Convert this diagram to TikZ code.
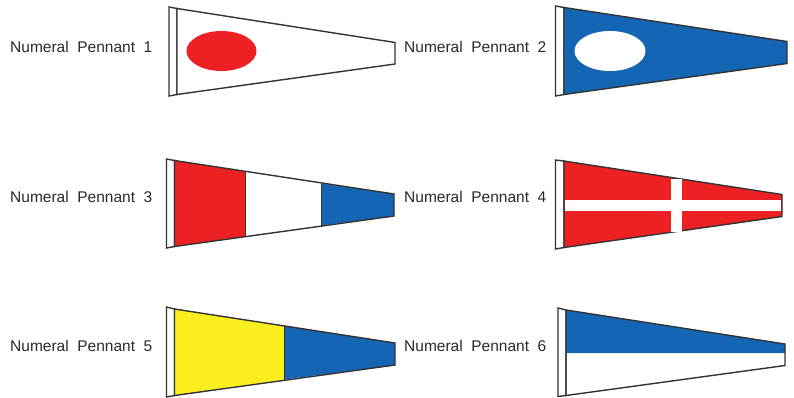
\documentclass[tikz,border=0pt]{standalone}
\usepackage{fontspec}
\setmainfont[WordSpace=2.0]{Liberation Sans}
\definecolor{flagred}{HTML}{ED2024}
\definecolor{flagblue}{HTML}{1565B5}
\definecolor{flagyellow}{HTML}{FBEE1F}
\definecolor{ink}{HTML}{333333}
\definecolor{labelink}{HTML}{2A2A2A}
\tikzset{
  pennantlabel/.style={anchor=base west,inner sep=0pt,text=labelink,font=\fontsize{15.5}{18}\selectfont},
  outline/.style={draw=ink,line width=1.4pt,line join=miter},
  divider/.style={draw=ink,line width=0.9pt},
}
\begin{document}
\begin{tikzpicture}[x=1pt,y=-1pt]
\useasboundingbox[fill=white] (0,0) rectangle (794,397);

% Pennant 1
\node[pennantlabel] (l1) at (10,52) {Numeral Pennant 1};
\draw[outline,fill=white] (169,7) -- (177,8.5) -- (177,94.5) -- (169,96) -- cycle;
\draw[outline,fill=white] (177,8.5) -- (395,42.5) -- (395,64) -- (177,94.5) -- cycle;
\fill[flagred] (221.5,51) ellipse [x radius=35pt,y radius=20pt];

% Pennant 2
\node[pennantlabel] (l2) at (404,52) {Numeral Pennant 2};
\draw[outline,fill=white] (555.5,6) -- (564,7.5) -- (564,94.5) -- (555.5,96) -- cycle;
\draw[outline,fill=flagblue] (564,7.5) -- (787,41.5) -- (787,63.5) -- (564,94.5) -- cycle;
\fill[white] (610,51) ellipse [x radius=35.5pt,y radius=20pt];

% Pennant 3
\node[pennantlabel] (l3) at (10,202) {Numeral Pennant 3};
\draw[outline,fill=white] (166.5,159) -- (174.5,160.5) -- (174.5,246.5) -- (166.5,248) -- cycle;
\fill[flagred] (174.5,160.5) -- (245,171.5) -- (245,236.5) -- (174.5,246.5) -- cycle;
\fill[flagblue] (321,183.5) -- (394,194) -- (394,216) -- (321,225.5) -- cycle;
\draw[divider] (245,171.5) -- (245,236.5);
\draw[divider] (321,183.5) -- (321,225.5);
\draw[outline] (174.5,160.5) -- (394,194) -- (394,216) -- (174.5,246.5) -- cycle;

% Pennant 4
\node[pennantlabel] (l4) at (404,202) {Numeral Pennant 4};
\draw[outline,fill=white] (555.5,160) -- (564,161) -- (564,247.5) -- (555.5,249) -- cycle;
\draw[outline,fill=flagred] (564,161) -- (782,194.5) -- (782,216.5) -- (564,247.5) -- cycle;
\fill[white] (671,178.5) rectangle (682,232);
\fill[white] (564.8,200) rectangle (781.2,211);

% Pennant 5
\node[pennantlabel] (l5) at (10,351) {Numeral Pennant 5};
\draw[outline,fill=white] (166.5,307) -- (174.5,309) -- (174.5,395.5) -- (166.5,397) -- cycle;
\fill[flagyellow] (174.5,309) -- (284,326) -- (284,379.5) -- (174.5,395.5) -- cycle;
\fill[flagblue] (284,326) -- (395,343) -- (395,365) -- (284,379.5) -- cycle;
\draw[divider] (284,326) -- (284,379.5);
\draw[outline] (174.5,309) -- (395,343) -- (395,365) -- (174.5,395.5) -- cycle;

% Pennant 6
\node[pennantlabel] (l6) at (404,351) {Numeral Pennant 6};
\draw[outline,fill=white] (558,308) -- (566,310) -- (566,395.5) -- (558,396.5) -- cycle;
\fill[flagblue] (566,310) -- (785,344) -- (785,353) -- (566,353) -- cycle;
\draw[outline] (566,310) -- (785,344) -- (785,365.5) -- (566,395.5) -- cycle;
\end{tikzpicture}
\end{document}
